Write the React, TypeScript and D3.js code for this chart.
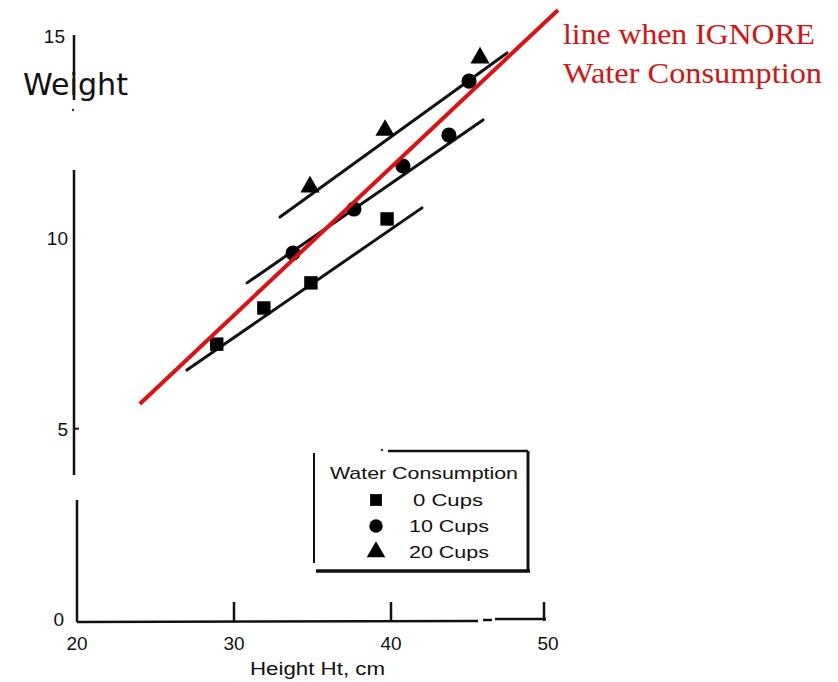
import { useEffect, useRef } from "react";
import * as d3 from "d3";

const width = 838;
const height = 682;

// tick values and labels
const xTicks = [20, 30, 40, 50];
const xTickLabels = ["20", "30", "40", "50"];
const yTicks = [0, 5, 10, 15];
const yTickLabels = ["0", "5", "10", "15"];

// measured points: [height, weight]
const cups0 = [[28.9, 7.22], [31.9, 8.17], [34.9, 8.83], [39.75, 10.51]];
const cups10 = [[33.76, 9.61], [37.64, 10.77], [40.76, 11.9], [43.69, 12.71], [44.97, 14.13]];
const cups20 = [[34.84, 11.35], [39.62, 12.84], [45.67, 14.74]];

// fitted lines (end points in data units)
const fit0 = [[27.0, 6.54], [41.97, 10.8]];
const fit10 = [[30.83, 8.83], [45.86, 13.11]];
const fit20 = [[32.93, 10.56], [47.39, 14.87]];
const ignoreLine = [[24.0, 5.65], [50.64, 16.0]];

const legendLabels = ["0 Cups", "10 Cups", "20 Cups"];
const shapes = [d3.symbolSquare, d3.symbolCircle, d3.symbolTriangle];

const App = () => {
  const ref = useRef(null);

  useEffect(() => {
    const svg = d3.select(ref.current);
    svg.selectAll("*").remove();

    const x = d3.scaleLinear().domain([20, 50]).range([77, 548]);
    const y = d3.scaleLinear().domain([0, 15]).range([619, 48]);

    const sans = "'Liberation Sans', Arial, sans-serif";

    // y axis, broken in pieces like the scan
    const axisSegs = [[74, 35, 74, 100], [74, 170, 74, 475], [77, 500, 77, 622]];
    axisSegs.forEach(s => {
      svg.append("line").attr("x1", s[0]).attr("y1", s[1]).attr("x2", s[2]).attr("y2", s[3])
        .attr("stroke", "#111").attr("stroke-width", 2.5);
    });
    svg.append("circle").attr("cx", 73).attr("cy", 110).attr("r", 1.2).attr("fill", "#333");
    // small tick at 5
    svg.append("line").attr("x1", 74).attr("x2", 79).attr("y1", y(5)).attr("y2", y(5))
      .attr("stroke", "#111").attr("stroke-width", 2);

    // x axis
    const xSegs = [[77, 622, 478, 621], [483, 620, 492, 620], [495, 619, 546, 619]];
    xSegs.forEach(s => {
      svg.append("line").attr("x1", s[0]).attr("y1", s[1]).attr("x2", s[2]).attr("y2", s[3])
        .attr("stroke", "#111").attr("stroke-width", 2.5);
    });
    xTicks.slice(1).forEach(t => {
      svg.append("line").attr("x1", x(t) - (t === 50 ? 4 : 0)).attr("x2", x(t) - (t === 50 ? 4 : 0))
        .attr("y1", 602).attr("y2", 621)
        .attr("stroke", "#111").attr("stroke-width", 2.5);
    });

    svg.selectAll(".xlab").data(xTicks).enter().append("text")
      .attr("x", d => x(d)).attr("y", 650)
      .attr("text-anchor", "middle")
      .style("font-family", sans).style("font-size", "19px").attr("fill", "#111")
      .text((d, i) => xTickLabels[i]);

    svg.selectAll(".ylab").data(yTicks).enter().append("text")
      .attr("x", d => d === 15 ? 65 : (d === 0 ? 64 : 68))
      .attr("y", d => d === 15 ? 43 : y(d) + 7)
      .attr("text-anchor", "end")
      .style("font-family", sans).style("font-size", "19px").attr("fill", "#111")
      .text((d, i) => yTickLabels[i]);

    svg.append("text").attr("x", 23).attr("y", 95)
      .attr("textLength", 105).attr("lengthAdjust", "spacingAndGlyphs")
      .style("font-family", "'DejaVu Sans', sans-serif").style("font-size", "31px").attr("fill", "#111")
      .text("Weight");

    svg.append("text").attr("x", 250).attr("y", 675)
      .attr("textLength", 135).attr("lengthAdjust", "spacingAndGlyphs")
      .style("font-family", sans).style("font-size", "18px").attr("fill", "#111")
      .text("Height Ht, cm");

    const line = d3.line().x(d => x(d[0])).y(d => y(d[1]));

    [fit0, fit10, fit20].forEach(f => {
      svg.append("path").attr("d", line(f)).attr("fill", "none")
        .attr("stroke", "#111").attr("stroke-width", 3).attr("stroke-linecap", "round");
    });

    [cups0, cups10, cups20].forEach((pts, i) => {
      const sym = d3.symbol().type(shapes[i]).size(i === 2 ? 160 : 180);
      svg.selectAll(".m" + i).data(pts).enter().append("path")
        .attr("transform", d => `translate(${x(d[0])},${y(d[1])})`)
        .attr("d", sym).attr("fill", "#000");
    });

    svg.append("path").attr("d", line(ignoreLine)).attr("fill", "none")
      .attr("stroke", "#dd1111").attr("stroke-width", 4);

    const serif = "'Liberation Serif', 'Times New Roman', serif";
    svg.append("text").attr("x", 563).attr("y", 44)
      .attr("textLength", 252).attr("lengthAdjust", "spacingAndGlyphs")
      .style("font-family", serif).style("font-size", "30px").attr("fill", "#d41414")
      .text("line when IGNORE");
    svg.append("text").attr("x", 563).attr("y", 83)
      .attr("textLength", 259).attr("lengthAdjust", "spacingAndGlyphs")
      .style("font-family", serif).style("font-size", "30px").attr("fill", "#d41414")
      .text("Water Consumption");

    // legend box
    const lg = svg.append("g");
    const boxSegs = [[314, 453, 314, 563, 2], [388, 451, 528, 451, 2.5], [528, 451, 528, 570, 3], [316, 571, 530, 571, 3.5]];
    boxSegs.forEach(s => {
      lg.append("line").attr("x1", s[0]).attr("y1", s[1]).attr("x2", s[2]).attr("y2", s[3])
        .attr("stroke", "#111").attr("stroke-width", s[4]);
    });
    lg.append("circle").attr("cx", 382).attr("cy", 450).attr("r", 1.2).attr("fill", "#333");
    lg.append("text").attr("x", 330).attr("y", 479)
      .attr("textLength", 188).attr("lengthAdjust", "spacingAndGlyphs")
      .style("font-family", sans).style("font-size", "17px").attr("fill", "#111")
      .text("Water Consumption");
    legendLabels.forEach((lab, i) => {
      const cy = 500 + i * 26;
      lg.append("path").attr("transform", `translate(376,${cy})`)
        .attr("d", d3.symbol().type(shapes[i]).size(i === 2 ? 150 : 140)).attr("fill", "#000");
      lg.append("text").attr("x", i === 0 ? 413 : 409).attr("y", cy + 6)
        .attr("textLength", i === 0 ? 70 : 80).attr("lengthAdjust", "spacingAndGlyphs")
        .style("font-family", sans).style("font-size", "17px").attr("fill", "#111")
        .text(lab);
    });
  }, []);

  return (
    <svg ref={ref} width={width} height={height}
      style={{ position: "absolute", left: 0, top: 0, background: "#fff" }}></svg>
  );
};

export default App;
